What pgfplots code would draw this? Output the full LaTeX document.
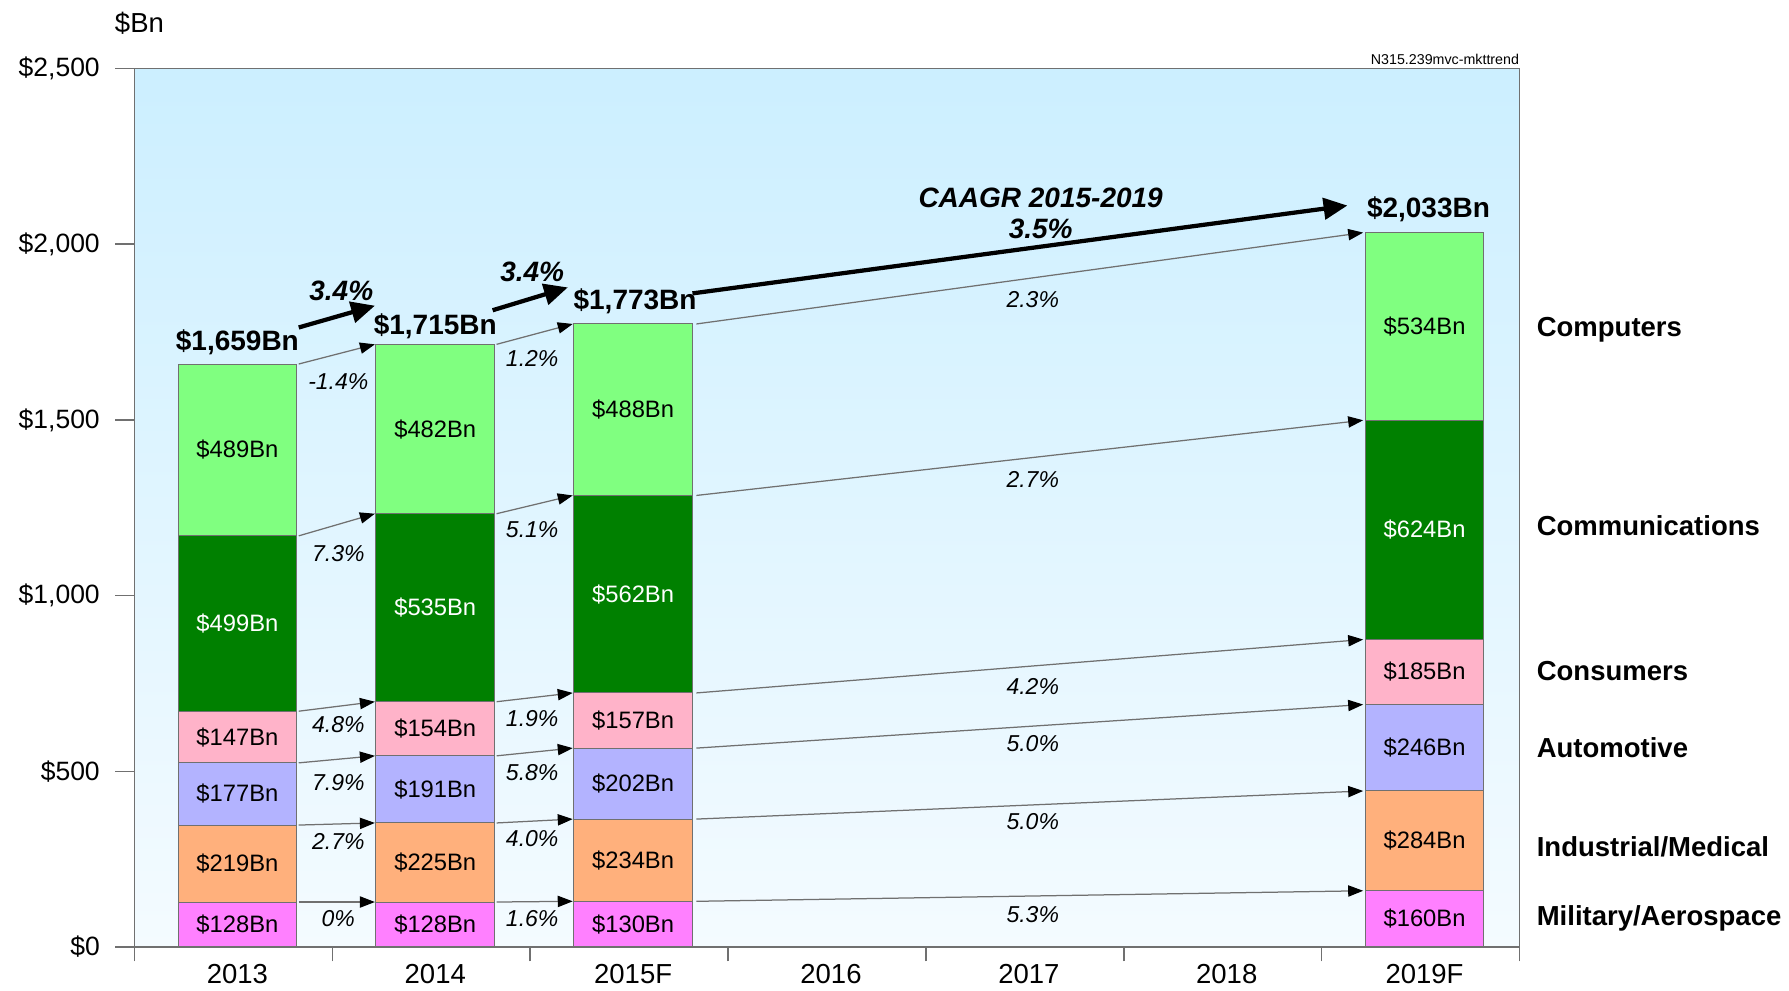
\documentclass[border=0pt]{standalone}
\usepackage{pgfplots}
\pgfplotsset{compat=1.18}
\usetikzlibrary{arrows.meta}
\usepackage{fontspec}
\setmainfont{Liberation Sans}
\definecolor{cMil}{HTML}{FF80FF}
\definecolor{cInd}{HTML}{FFB07C}
\definecolor{cAuto}{HTML}{B3B3FF}
\definecolor{cCons}{HTML}{FFB3C9}
\definecolor{cComm}{HTML}{008000}
\definecolor{cComp}{HTML}{80FF80}
\definecolor{bgtop}{HTML}{CCEFFF}
\definecolor{bgbot}{HTML}{F4FBFF}
\definecolor{axgray}{HTML}{707070}
\tikzset{
  barlab/.style={font=\fontsize{9.5}{10}\selectfont, inner sep=0pt},
  pct/.style={font=\fontsize{9.2}{10}\selectfont\itshape, inner sep=0pt},
  tot/.style={font=\fontsize{11.2}{12}\selectfont\bfseries, inner sep=0pt},
  bit/.style={font=\fontsize{11.2}{12}\selectfont\bfseries\itshape, inner sep=0pt},
  cat/.style={font=\fontsize{11}{12}\selectfont\bfseries, inner sep=0pt, anchor=west},
  tarr/.style={draw=axgray, line width=0.5pt, -{Triangle[length=6pt,width=4.5pt,black]}},
  big/.style={draw=black, line width=1.7pt, -{Triangle[length=9.5pt,width=8.5pt]}},
}
\pgfplotsset{
  frame/.style={at={(0,0)}, anchor=south west,
    scale only axis, width=554pt, height=351.4pt,
    xmin=-0.5, xmax=6.5, ymin=0, ymax=2500, clip=false},
}
\begin{document}
\begin{tikzpicture}
\useasboundingbox (-53.8pt,-17.6pt) rectangle (661.8pt,378.8pt);
\begin{axis}[
  frame,
  ybar stacked, bar width=0.6, bar shift=1.6pt,
  axis background/.style={top color=bgtop, bottom color=bgbot},
  axis line style={draw=axgray, line width=0.6pt},
  tick align=outside,
  major tick length=7.6pt,
  minor tick length=5.7pt,
  xtick={0,...,6},
  xticklabels={2013,2014,2015F,2016,2017,2018,2019F},
  major x tick style={draw=none},
  minor xtick={-0.5,0.5,...,6.5},
  minor x tick style={draw=axgray, line width=0.6pt},
  ytick={0,500,...,2500},
  yticklabels={{\$0},{\$500},{\$1,000},{\$1,500},{\$2,000},{\$2,500}},
  y tick style={draw=axgray, line width=0.6pt},
  ytick pos=left, xtick pos=bottom,
  x tick label style={font=\fontsize{11}{12}\selectfont, anchor=base, inner sep=0pt, yshift=-6.9pt, xshift=1.6pt},
  y tick label style={font=\fontsize{10.6}{12}\selectfont, anchor=east, inner sep=0pt, xshift=-6.1pt},
  /pgf/number format/assume math mode=true,
]
\addplot[fill=cMil, draw=axgray, line width=0.4pt] coordinates {(0,128) (1,128) (2,130) (6,160)};
\addplot[fill=cInd, draw=axgray, line width=0.4pt] coordinates {(0,219) (1,225) (2,234) (6,284)};
\addplot[fill=cAuto, draw=axgray, line width=0.4pt] coordinates {(0,177) (1,191) (2,202) (6,246)};
\addplot[fill=cCons, draw=axgray, line width=0.4pt] coordinates {(0,147) (1,154) (2,157) (6,185)};
\addplot[fill=cComm, draw=axgray, line width=0.4pt] coordinates {(0,499) (1,535) (2,562) (6,624)};
\addplot[fill=cComp, draw=axgray, line width=0.4pt] coordinates {(0,489) (1,482) (2,488) (6,534)};
\end{axis}
\begin{axis}[frame, hide axis]
% segment labels
\node[barlab] at (axis cs:0.02,64) {\$128Bn};
\node[barlab] at (axis cs:0.02,237.5) {\$219Bn};
\node[barlab] at (axis cs:0.02,435.5) {\$177Bn};
\node[barlab] at (axis cs:0.02,597.5) {\$147Bn};
\node[barlab, text=white] at (axis cs:0.02,920.5) {\$499Bn};
\node[barlab] at (axis cs:0.02,1414.5) {\$489Bn};
\node[barlab] at (axis cs:1.02,64) {\$128Bn};
\node[barlab] at (axis cs:1.02,240.5) {\$225Bn};
\node[barlab] at (axis cs:1.02,448.5) {\$191Bn};
\node[barlab] at (axis cs:1.02,621) {\$154Bn};
\node[barlab, text=white] at (axis cs:1.02,965.5) {\$535Bn};
\node[barlab] at (axis cs:1.02,1474) {\$482Bn};
\node[barlab] at (axis cs:2.02,65) {\$130Bn};
\node[barlab] at (axis cs:2.02,247) {\$234Bn};
\node[barlab] at (axis cs:2.02,465) {\$202Bn};
\node[barlab] at (axis cs:2.02,644.5) {\$157Bn};
\node[barlab, text=white] at (axis cs:2.02,1004) {\$562Bn};
\node[barlab] at (axis cs:2.02,1529) {\$488Bn};
\node[barlab] at (axis cs:6.02,80) {\$160Bn};
\node[barlab] at (axis cs:6.02,302) {\$284Bn};
\node[barlab] at (axis cs:6.02,567) {\$246Bn};
\node[barlab] at (axis cs:6.02,782.5) {\$185Bn};
\node[barlab, text=white] at (axis cs:6.02,1187) {\$624Bn};
\node[barlab] at (axis cs:6.02,1766) {\$534Bn};

% totals
\node[tot] at (axis cs:0.02,1721) {\$1,659Bn};
\node[tot] at (axis cs:1.02,1766) {\$1,715Bn};
\node[tot] at (axis cs:2.03,1838) {\$1,773Bn};
\node[tot] at (axis cs:6.04,2100) {\$2,033Bn};

% thin arrows 2013 -> 2014
\draw[tarr] (axis cs:0.33,1659) -- (axis cs:0.715,1715);
\draw[tarr] (axis cs:0.33,1170) -- (axis cs:0.715,1233);
\draw[tarr] (axis cs:0.33,671) -- (axis cs:0.715,698);
\draw[tarr] (axis cs:0.33,524) -- (axis cs:0.715,544);
\draw[tarr] (axis cs:0.33,347) -- (axis cs:0.715,353);
\draw[tarr] (axis cs:0.33,128) -- (axis cs:0.715,128);
% 2014 -> 2015F
\draw[tarr] (axis cs:1.33,1715) -- (axis cs:1.715,1773);
\draw[tarr] (axis cs:1.33,1233) -- (axis cs:1.715,1285);
\draw[tarr] (axis cs:1.33,698) -- (axis cs:1.715,723);
\draw[tarr] (axis cs:1.33,544) -- (axis cs:1.715,566);
\draw[tarr] (axis cs:1.33,353) -- (axis cs:1.715,364);
\draw[tarr] (axis cs:1.33,128) -- (axis cs:1.715,130);
% 2015F -> 2019F
\draw[tarr] (axis cs:2.34,1773) -- (axis cs:5.71,2033);
\draw[tarr] (axis cs:2.34,1285) -- (axis cs:5.71,1499);
\draw[tarr] (axis cs:2.34,723) -- (axis cs:5.71,875);
\draw[tarr] (axis cs:2.34,566) -- (axis cs:5.71,690);
\draw[tarr] (axis cs:2.34,364) -- (axis cs:5.71,444);
\draw[tarr] (axis cs:2.34,130) -- (axis cs:5.71,160);

% percentages
\node[pct] at (axis cs:0.53,1610) {-1.4\%};
\node[pct] at (axis cs:0.53,1120) {7.3\%};
\node[pct] at (axis cs:0.53,633) {4.8\%};
\node[pct] at (axis cs:0.53,468) {7.9\%};
\node[pct] at (axis cs:0.53,299) {2.7\%};
\node[pct] at (axis cs:0.53,81) {0\%};
\node[pct] at (axis cs:1.51,1675) {1.2\%};
\node[pct] at (axis cs:1.51,1188) {5.1\%};
\node[pct] at (axis cs:1.51,649) {1.9\%};
\node[pct] at (axis cs:1.51,497) {5.8\%};
\node[pct] at (axis cs:1.51,308) {4.0\%};
\node[pct] at (axis cs:1.51,81) {1.6\%};
\node[pct] at (axis cs:4.04,1841) {2.3\%};
\node[pct] at (axis cs:4.04,1331) {2.7\%};
\node[pct] at (axis cs:4.04,740) {4.2\%};
\node[pct] at (axis cs:4.04,578) {5.0\%};
\node[pct] at (axis cs:4.04,357) {5.0\%};
\node[pct] at (axis cs:4.04,91) {5.3\%};

% big arrows
\draw[big] (axis cs:0.33,1763) -- (axis cs:0.715,1825);
\draw[big] (axis cs:1.31,1812) -- (axis cs:1.69,1877);
\draw[big] (axis cs:2.32,1860) -- (axis cs:5.63,2110);
\node[bit] at (axis cs:0.545,1867) {3.4\%};
\node[bit] at (axis cs:1.51,1922) {3.4\%};
\node[bit] at (axis cs:4.08,2133) {CAAGR 2015-2019};
\node[bit] at (axis cs:4.08,2045) {3.5\%};

% category names
\node[cat] at (axis cs:6.585,1756) {Computers};
\node[cat] at (axis cs:6.585,1198) {Communications};
\node[cat] at (axis cs:6.585,786) {Consumers};
\node[cat] at (axis cs:6.585,568) {Automotive};
\node[cat] at (axis cs:6.585,286) {Industrial/Medical};
\node[cat] at (axis cs:6.585,81) {Military/Aerospace};

% unit and code
\node[anchor=west, inner sep=0pt, xshift=-8pt, yshift=18pt, font=\fontsize{11}{12}\selectfont] at (rel axis cs:0,1) {\$Bn};
\node[anchor=south east, inner sep=0pt, yshift=1.4pt, font=\fontsize{5.7}{6}\selectfont] at (rel axis cs:1,1) {N315.239mvc-mkttrend};
\end{axis}
\end{tikzpicture}
\end{document}
